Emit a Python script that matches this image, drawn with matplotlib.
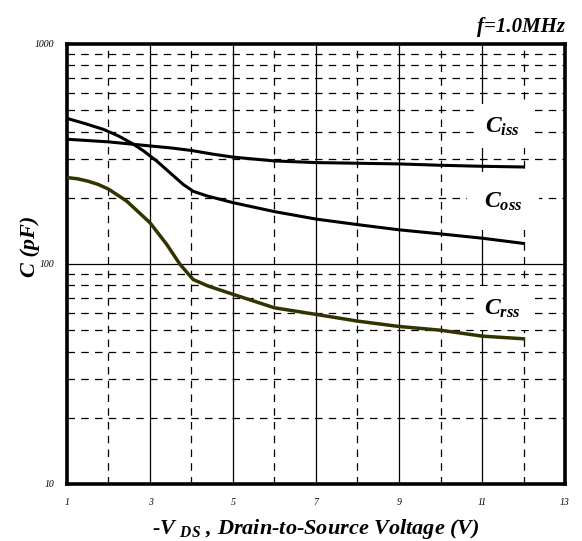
import numpy as np
import matplotlib.pyplot as plt

plt.rcParams['mathtext.fontset'] = 'custom'
plt.rcParams['mathtext.it'] = 'Liberation Serif:bold:italic'
plt.rcParams['mathtext.rm'] = 'Liberation Serif:bold:italic'
plt.rcParams['mathtext.bf'] = 'Liberation Serif:bold:italic'

# Данные (В, пФ)
v_ciss = [1, 2, 3, 3.5, 4, 4.5, 5, 6, 7, 8, 9, 10, 11, 12]
c_iss = [369, 359, 344, 337, 328, 316, 306, 294, 289, 287, 285, 281, 278, 276]

v_coss = [1, 1.43, 1.88, 2.24, 2.56, 2.84, 3.16, 3.48, 3.8, 4.04, 4.37, 5, 6, 7, 8, 9, 10, 11, 12]
c_oss = [459, 435, 409, 382, 354, 327, 294, 260, 230, 214, 204, 190, 173, 160, 151, 143, 137, 131, 124]

v_crss = [1, 1.25, 1.5, 1.75, 2, 2.44, 3, 3.4, 3.72, 4.04, 4.4, 5, 6, 7, 8, 9, 10, 11, 12]
c_rss = [247, 244, 238, 230, 219, 193, 154, 123, 99.8, 85, 79.4, 72.8, 63.2, 59, 55, 52, 50, 47, 45.7]

x_ticks = [1, 3, 5, 7, 9, 11, 13]
y_ticks = [10, 100, 1000]

serif = 'Liberation Serif'

fig = plt.figure(figsize=(5.82, 5.41), dpi=100)
ax = fig.add_axes([0.1151, 0.1054, 0.8557, 0.8133])

ax.set_yscale('log')
ax.set_xlim(1, 13)
ax.set_ylim(10, 1000)

# ---------------------- сетка ----------------------
for xv in range(2, 13):
    if xv % 2 == 1:
        ax.axvline(xv, color='black', lw=0.9, zorder=1)
    else:
        ax.axvline(xv, color='black', lw=0.9, ls=(0, (6, 5)), zorder=1)
for dec in [10, 100]:
    for m in range(2, 10):
        ax.axhline(dec * m, color='black', lw=0.9, ls=(0, (6, 5)), zorder=1)
ax.axhline(100, color='black', lw=0.9, zorder=1)

# ---------------------- кривые ----------------------
ax.plot(v_ciss, c_iss, color='black', lw=2.2, solid_joinstyle='round', zorder=3)
ax.plot(v_coss, c_oss, color='black', lw=2.2, solid_joinstyle='round', zorder=3)
ax.plot(v_crss, c_rss, color='#333300', lw=2.5, solid_joinstyle='round', zorder=3)

box = dict(facecolor='white', edgecolor='none', pad=7)
ax.text(11.5, 424, r'$C_{iss}$', fontsize=17,
        ha='center', va='center', bbox=box, zorder=4)
ax.text(11.5, 193, r'$C_{oss}$', fontsize=17,
        ha='center', va='center', bbox=dict(facecolor='white', edgecolor='none', pad=12), zorder=4)
ax.text(11.5, 63, r'$C_{rss}$', fontsize=17,
        ha='center', va='center', bbox=box, zorder=4)

# ---------------------- оси ----------------------
for s in ax.spines.values():
    s.set_linewidth(2.6)
ax.set_xticks(x_ticks)
ax.set_xticklabels([str(t) for t in x_ticks], fontsize=7, fontstyle='italic', family=serif)
ax.set_yticks(y_ticks)
ax.set_yticklabels([str(t) for t in y_ticks], fontsize=7, fontstyle='italic', family=serif)
ax.yaxis.set_minor_locator(plt.NullLocator())
ax.tick_params(length=0, pad=10)
ax.tick_params(axis='y', pad=9)

ax.set_xlabel(r'-$V$ $_{DS}$ , Drain-to-Source Voltage (V)', fontsize=16,
              fontweight='bold', fontstyle='italic', family=serif, labelpad=7)
ax.set_ylabel('C (pF)', fontsize=16, fontweight='bold', fontstyle='italic', family=serif)
ax.yaxis.set_label_coords(-0.054, 0.54)
ax.text(1.0, 1.015, 'f=1.0MHz', transform=ax.transAxes, ha='right', va='bottom',
        fontsize=15, fontweight='bold', fontstyle='italic', family=serif)

fig.savefig('out.png', dpi=100)
